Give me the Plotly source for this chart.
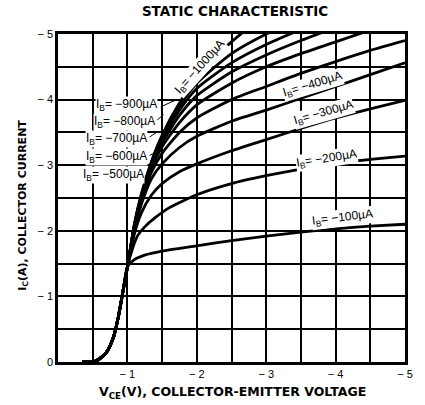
import plotly.graph_objects as go

# ---- data (V_CE in volts, I_C in amps) ----
common_v = [-0.35, -0.5, -0.6, -0.7, -0.8, -0.87, -0.94, -1.0]
common_i = [0.0, 0.0, -0.05, -0.15, -0.38, -0.69, -1.1, -1.45]

ib_labels = ["-100", "-200", "-300", "-400", "-500", "-600", "-700", "-800", "-900", "-1000"]

v_100 = [-1.1, -1.25, -1.5, -2.0, -2.5, -3.0, -3.5, -4.0, -4.5, -5.0]
i_100 = [-1.56, -1.63, -1.69, -1.77, -1.85, -1.92, -1.98, -2.03, -2.07, -2.10]

v_200 = [-1.08, -1.15, -1.25, -1.4, -1.6, -2.0, -2.5, -3.0, -3.5, -4.0, -4.5, -5.0]
i_200 = [-1.75, -1.93, -2.06, -2.2, -2.35, -2.55, -2.72, -2.84, -2.94, -3.03, -3.09, -3.14]

v_fan = [-1.1, -1.2, -1.35, -1.5, -1.75, -2.0, -2.5, -3.0, -3.5, -4.0, -4.5, -5.0]
i_300 = [-1.95, -2.27, -2.55, -2.72, -2.9, -3.02, -3.22, -3.39, -3.56, -3.72, -3.86, -3.99]
i_400 = [-2.0, -2.4, -2.8, -3.02, -3.27, -3.44, -3.67, -3.84, -4.02, -4.2, -4.38, -4.56]
i_500 = [-2.03, -2.45, -2.9, -3.18, -3.5, -3.72, -4.0, -4.2, -4.4, -4.58, -4.75, -4.9]
i_600 = [-2.05, -2.48, -2.96, -3.28, -3.65, -3.92, -4.25, -4.5, -4.7, -4.88, -5.06]
i_700 = [-2.07, -2.5, -3.0, -3.34, -3.76, -4.06, -4.42, -4.68, -4.9, -5.1]
i_800 = [-2.08, -2.52, -3.03, -3.39, -3.84, -4.17, -4.56, -4.84, -5.07]
v_900 = [-1.1, -1.2, -1.35, -1.5, -1.75, -2.0, -2.5, -3.0, -3.25]
i_900 = [-2.09, -2.54, -3.05, -3.43, -3.9, -4.25, -4.7, -5.0, -5.12]
v_1000 = [-1.1, -1.2, -1.35, -1.5, -1.75, -2.0, -2.25, -2.5, -2.75]
i_1000 = [-2.1, -2.56, -3.07, -3.46, -3.95, -4.32, -4.63, -4.88, -5.1]

curves = [
    (v_100, i_100), (v_200, i_200),
    (v_fan, i_300), (v_fan, i_400), (v_fan, i_500),
    (v_fan[:len(i_600)], i_600), (v_fan[:len(i_700)], i_700), (v_fan[:len(i_800)], i_800),
    (v_900, i_900), (v_1000, i_1000),
]

x_ticks = [-1, -2, -3, -4, -5]
x_ticktext = ["\u2212 1", "\u2212 2", "\u2212 3", "\u2212 4", "\u2212 5"]
y_ticks = [0, -1, -2, -3, -4, -5]
y_ticktext = ["0", "\u2212 1", "\u2212 2", "\u2212 3", "\u2212 4", "\u2212 5"]

FONT = "Liberation Sans, Arial, sans-serif"
BOLD = "DejaVu Sans, Liberation Sans, sans-serif"

fig = go.Figure()
for (vv, ii), lab in zip(curves, ib_labels):
    fig.add_trace(go.Scatter(
        x=common_v + vv, y=common_i + ii, mode="lines",
        line=dict(color="black", width=2.8, shape="spline", smoothing=0.6),
        name=lab, showlegend=False, hoverinfo="skip"))

def lab(n):
    return "I<sub>B</sub>= \u2212" + n + "\u00b5A"

# left labels with pointer lines: (label, text right x, y, pointer x0, y0, x1, y1)
left_labels = [
    ("900", -1.44, -3.92, -1.48, -3.89, -1.69, -3.99),
    ("800", -1.41, -3.66, -1.43, -3.69, -1.52, -3.77),
    ("700", -1.30, -3.4, -1.32, -3.43, -1.42, -3.50),
    ("600", -1.30, -3.12, -1.32, -3.15, -1.41, -3.20),
    ("500", -1.25, -2.85, -1.28, -2.88, -1.35, -2.95),
]
for n, tx, ty, x0, y0, x1, y1 in left_labels:
    fig.add_annotation(x=tx, y=ty, text=lab(n), showarrow=False, xanchor="right",
                       yanchor="middle", font=dict(family=FONT, size=12, color="black"),
                       bgcolor="white", borderpad=0)
    fig.add_shape(type="line", x0=x0, y0=y0, x1=x1, y1=y1,
                  line=dict(color="black", width=1))

# rotated labels along curves: (label, x, y, angle)
rot_labels = [
    ("1000", -2.05, -4.5, -48),
    ("400", -3.66, -4.23, -17),
    ("300", -3.83, -3.8, -16),
    ("200", -3.87, -3.1, -9),
    ("100", -4.1, -2.19, -7),
]
for n, x, y, ang in rot_labels:
    fig.add_annotation(x=x, y=y, text=lab(n), showarrow=False, textangle=ang,
                       font=dict(family=FONT, size=12, color="black"),
                       bgcolor="white", borderpad=0)

fig.add_annotation(xref="paper", yref="paper", x=0.504, y=-0.0915,
                   xanchor="center", yanchor="middle",
                   text="<b>V<sub>CE</sub>(V), COLLECTOR-EMITTER VOLTAGE</b>",
                   showarrow=False, font=dict(family=BOLD, size=12.5, color="black"))
fig.add_annotation(xref="paper", yref="paper", x=-0.101, y=0.479, textangle=-90,
                   xanchor="center", yanchor="middle",
                   text="<b>I<sub>C</sub>(A), COLLECTOR CURRENT</b>",
                   showarrow=False, font=dict(family=BOLD, size=11, color="black"))

fig.update_layout(
    width=425, height=405,
    margin=dict(l=58, r=12, t=34, b=43),
    paper_bgcolor="white", plot_bgcolor="white",
    title=dict(text="<b>STATIC CHARACTERISTIC</b>", x=0.553, xanchor="center",
               y=0.972, yanchor="middle", yref="container",
               font=dict(family=BOLD, size=13.5, color="black")),
    font=dict(family=FONT, size=10, color="black"),
)
fig.update_xaxes(range=[0, -5], tickvals=x_ticks, ticktext=x_ticktext,
                 showgrid=True, gridcolor="black", gridwidth=1.6,
                 minor=dict(dtick=0.5, showgrid=True, gridcolor="black", gridwidth=1.6),
                 showline=True, linecolor="black", linewidth=2.5, mirror=True,
                 ticks="", zeroline=False, tickfont=dict(size=11))
fig.update_yaxes(range=[0, -5], tickvals=y_ticks, ticktext=y_ticktext,
                 showgrid=True, gridcolor="black", gridwidth=1.6,
                 minor=dict(dtick=0.5, showgrid=True, gridcolor="black", gridwidth=1.6),
                 showline=True, linecolor="black", linewidth=2.5, mirror=True,
                 ticks="", zeroline=False, tickfont=dict(size=11))

fig.write_html("out.html", config={"displayModeBar": False},
               post_script="document.body.style.margin='0px';")
